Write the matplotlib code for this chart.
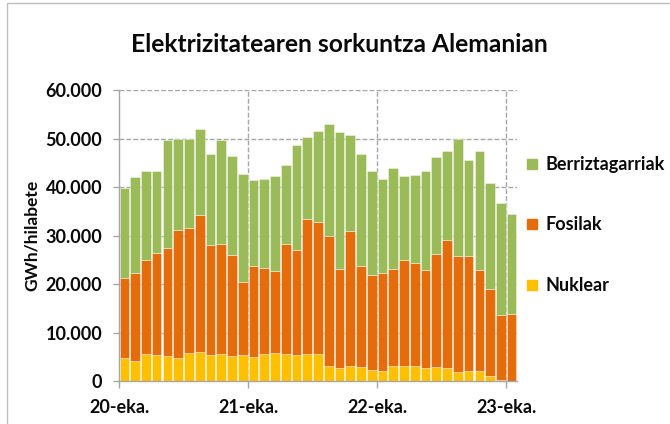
import matplotlib
matplotlib.use("Agg")
import numpy as np
from matplotlib import pyplot as plt
from matplotlib.lines import Line2D
from matplotlib.patches import Rectangle

# monthly values, GWh, Jan 2020 .. Jan 2023
nuklear = [4.7, 4.2, 5.6, 5.3, 5.2, 4.8, 5.8, 5.9, 5.4, 5.5, 5.2, 5.3,
           5.0, 5.5, 5.8, 5.5, 5.3, 5.6, 5.6, 3.0, 2.7, 3.0, 2.9, 2.3,
           2.1, 3.0, 3.0, 3.0, 2.7, 2.9, 2.7, 1.8, 2.0, 2.1, 1.0, 0.2,
           0.0]
fosil_top = [21.3, 22.2, 24.9, 26.3, 27.4, 31.2, 31.6, 34.3, 28.1, 28.2, 26.0, 20.5,
             23.8, 23.4, 22.6, 28.2, 27.0, 33.5, 32.8, 30.0, 23.0, 31.0, 23.8, 21.9,
             22.3, 23.0, 24.9, 24.3, 22.9, 26.1, 29.0, 25.7, 25.8, 22.9, 18.9, 13.7,
             13.8]
total = [39.7, 42.0, 43.4, 43.3, 49.7, 49.9, 50.0, 52.0, 46.8, 49.7, 46.4, 42.7,
         41.4, 41.7, 42.3, 44.5, 48.6, 50.3, 51.5, 52.9, 51.4, 50.7, 46.8, 43.4,
         41.6, 44.0, 42.3, 42.5, 43.4, 46.1, 47.4, 49.8, 45.6, 47.4, 40.8, 36.7,
         34.5]
year_labels = ["20-eka.", "21-eka.", "22-eka.", "23-eka."]
series_names = ["Berriztagarriak", "Fosilak", "Nuklear"]

nuk = np.array(nuklear) * 1000
fos = np.array(fosil_top) * 1000 - nuk
ber = np.array(total) * 1000 - np.array(fosil_top) * 1000

c_green = "#9BBB59"
c_orange = "#E46C0A"
c_yellow = "#FFC000"
grey = "#A6A6A6"
txt = "#0A0A0A"
wt = "bold"

plt.rcParams['font.family'] = ['Lato', 'DejaVu Sans']
plt.rcParams['font.weight'] = wt

fig = plt.figure(figsize=(6.7, 4.24), dpi=100)
ax = fig.add_axes([119 / 670, 1 - 381 / 424, 398 / 670, 291 / 424])

x = np.arange(len(total))
ec = (1, 1, 1, 0.55)
ax.bar(x, nuk, 0.9, color=c_yellow, edgecolor=ec, linewidth=0.5, zorder=2)
ax.bar(x, fos, 0.9, bottom=nuk, color=c_orange, edgecolor=ec, linewidth=0.5, zorder=2)
ax.bar(x, ber, 0.9, bottom=nuk + fos, color=c_green, edgecolor=ec, linewidth=0.5, zorder=2)

ax.set_xlim(-0.5, len(total) - 0.5)
ax.set_ylim(0, 60000)
ax.set_yticks(np.arange(0, 60001, 10000))
ax.set_yticklabels(["0" if v == 0 else f"{v // 1000}.000" for v in range(0, 60001, 10000)])
year_pos = [-0.5, 11.5, 23.5, 35.5]
ax.set_xticks(year_pos)
ax.set_xticklabels(year_labels)

for p in year_pos[1:]:
    ax.axvline(p, color=grey, lw=1, ls=(0, (3.5, 1.5)), zorder=1)
for v in range(10000, 60001, 10000):
    ax.axhline(v, color=grey, lw=1, ls=(0, (3.5, 1.5)), zorder=1)

for s in ["top", "right"]:
    ax.spines[s].set_visible(False)
for s in ["left", "bottom"]:
    ax.spines[s].set_color(grey)
    ax.spines[s].set_linewidth(1)
    ax.spines[s].set_zorder(3)

ax.tick_params(axis="y", length=4, width=1, color=grey, pad=8,
               labelsize=13, labelcolor=txt)
ax.tick_params(axis="x", length=5, width=1, color=grey, pad=8,
               labelsize=13, labelcolor=txt)
ax.set_ylabel("GWh/hilabete", fontsize=12.5, color=txt, fontweight=wt)
ax.yaxis.set_label_coords(-0.2, 0.5)

fig.text(339 / 670, 1 - 45 / 424, "Elektrizitatearen sorkuntza Alemanian",
         ha="center", va="center", fontsize=17.7, color=txt, fontweight=wt)

handles = [Line2D([], [], marker="s", ls="none", markersize=6.5, color=c)
           for c in [c_green, c_orange, c_yellow]]
leg = fig.legend(handles, series_names, loc="center left",
                 bbox_to_anchor=(518 / 670, 1 - 225 / 424), frameon=False,
                 fontsize=13, labelspacing=2.4, handlelength=0.7,
                 handletextpad=0.4, borderaxespad=0)
for t in leg.get_texts():
    t.set_color(txt)
    t.set_fontweight(wt)

fig.patches.append(Rectangle((7 / 670, -0.05), 1.0, 1 - 3 / 424 + 0.05,
                             transform=fig.transFigure, fill=False,
                             edgecolor="#BFBFBF", lw=1))

fig.savefig("out.png", dpi=100)
